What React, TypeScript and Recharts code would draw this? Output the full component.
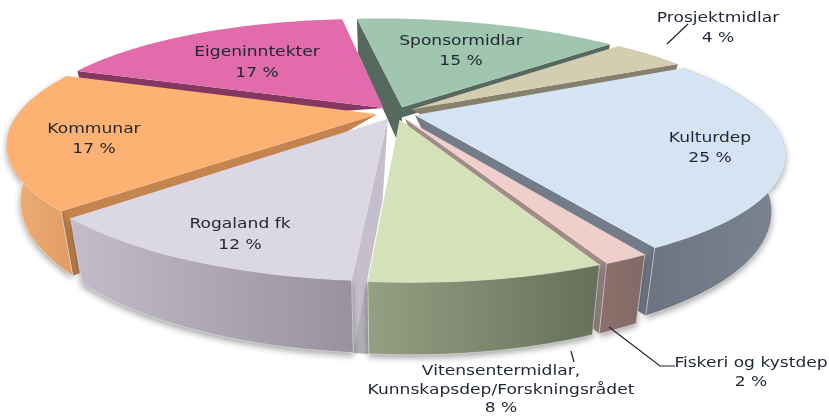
import { Pie, PieChart } from 'recharts'

const names = [
  'Kulturdep',
  'Fiskeri og kystdep',
  'Vitensentermidlar, Kunnskapsdep/Forskningsrådet',
  'Rogaland fk',
  'Kommunar',
  'Eigeninntekter',
  'Sponsormidlar',
  'Prosjektmidlar',
]
const shares = [24.9, 1.6, 7.9, 11.5, 17.49, 17.41, 15.1, 4.1]
const data = names.map((name, i) => ({ name, value: shares[i] }))

const topColors = ['#d5e4f2', '#eecfcb', '#d5e1b9', '#dcd7e4', '#fdb273', '#e26bab', '#a0c6b0', '#d5cdb2']
const sideColors = [
  ['#6b7480', '#7b8490'],
  ['#8a6f6b', '#846a66'],
  ['#969f82', '#66705a'],
  ['#c2bccb', '#98929e'],
  ['#efb07a', '#e09a60'],
]
const edgeColors = ['#737c88', '#a08b87', '#5f6650', '#c5bfcd', '#c48450', '#83395f', '#56695e', '#86806c']

// which cut faces show in the gaps: [start edge depth, end edge depth, inner radius of the cut]
const cutFaces = [
  [0, 1, 0.2],
  [0, 1, 0.2],
  [0, 0, 0.2],
  [1, 0, 0.2],
  [1, 0, 0.8],
  [1, 0, 0.8],
  [0.85, 0.2, 0],
  [0, 0.8, 0.2],
]

const textLayout = [
  { x: 710, ys: [142, 162], lines: ['Kulturdep', '25 %'] },
  { x: 751, ys: [367, 386], lines: ['Fiskeri og kystdep', '2 %'] },
  { x: 501, ys: [375, 394, 412], lines: ['Vitensentermidlar,', 'Kunnskapsdep/Forskningsrådet', '8 %'] },
  { x: 240, ys: [228, 249], lines: ['Rogaland fk', '12 %'] },
  { x: 94, ys: [133, 153], lines: ['Kommunar', '17 %'] },
  { x: 257, ys: [56, 77], lines: ['Eigeninntekter', '17 %'] },
  { x: 461, ys: [45, 65], lines: ['Sponsormidlar', '15 %'] },
  { x: 718, ys: [22, 42], lines: ['Prosjektmidlar', '4 %'] },
]
const leaders: Record<number, string> = {
  1: 'M609 327 L660 366 L675 366',
  2: 'M571 351 L574 362',
  7: 'M667 44 L688 24',
}

const TILT = 0.325
const PERSPECTIVE = 0.2687
const DEPTH = 52
const EXPLODE = 0.055
const SKEW = 5
const TEXT_STRETCH = 1.18

const rad = (d: number) => (d * Math.PI) / 180

function projector(p: any) {
  const { cx, cy, outerRadius, startAngle, endAngle } = p
  const mid = (startAngle + endAngle) / 2
  const ex = Math.cos(rad(mid)) * EXPLODE
  const ey = -Math.sin(rad(mid)) * EXPLODE
  return (deg: number, rho: number, drop: number) => {
    const u = Math.cos(rad(deg)) * rho + ex
    const v = -Math.sin(rad(deg)) * rho + ey
    const w = 1 / (1 - PERSPECTIVE * v)
    const shrink = 1 - 0.035 * drop
    const x = cx + outerRadius * u * w * shrink
    const y = cy + outerRadius * TILT * v * w + DEPTH * w * drop + SKEW * u
    return `${x.toFixed(1)} ${y.toFixed(1)}`
  }
}

function arc(p: any, drop: number, reverse = false) {
  const at = projector(p)
  const steps = Math.max(4, Math.ceil(Math.abs(p.endAngle - p.startAngle) / 2))
  const pts: string[] = []
  for (let i = 0; i <= steps; i++) {
    const t = i / steps
    pts.push(at(p.startAngle + (p.endAngle - p.startAngle) * t, 1, drop))
  }
  return reverse ? pts.reverse() : pts
}

function EdgeShape(p: any) {
  const at = projector(p)
  const fill = edgeColors[p.index]
  const [startDrop, endDrop, inner] = cutFaces[p.index]
  const face = (deg: number, drop: number) => [at(deg, 0, 0), at(deg, 1, 0), at(deg, 1, drop), at(deg, inner, drop)]
  // the grey sliver seen through the gap left of the Vitensenter wall
  const gap = [at(p.endAngle, 1, 0), at(p.endAngle, 1, 1), at(p.endAngle - 2, 1, 1), at(p.endAngle - 2, 1, 0)]
  return (
    <g>
      {p.index === 2 && <path d={`M${gap.join(' L')} Z`} fill="#b2aeb6" />}
      {startDrop > 0 && <path d={`M${face(p.startAngle, startDrop).join(' L')} Z`} fill={fill} />}
      {endDrop > 0 && <path d={`M${face(p.endAngle, endDrop).join(' L')} Z`} fill={fill} />}
    </g>
  )
}

function WallShape(p: any) {
  // the three slices at the back have no outer wall facing the viewer
  if (!sideColors[p.index]) return <g />
  const id = `wall-${p.index}`
  const pts = [...arc(p, 0), ...arc(p, 1, true)]
  const [from, to] = sideColors[p.index]
  return (
    <g style={{ filter: 'drop-shadow(0 3px 3px rgba(0,0,0,0.35))' }}>
      <defs>
        <linearGradient id={id} x1="0" y1="0" x2="1" y2="0">
          <stop offset="0" stopColor={from} />
          <stop offset="1" stopColor={to} />
        </linearGradient>
      </defs>
      <path d={`M${pts.join(' L')} Z`} fill={`url(#${id})`} stroke="#e8e8e8" strokeWidth={0.6} />
    </g>
  )
}

function TopShape(p: any) {
  const at = projector(p)
  const pts = [at(p.startAngle, 0, 0), ...arc(p, 0)]
  return <path d={`M${pts.join(' L')} Z`} fill={topColors[p.index]} />
}

function SliceLabel(p: any) {
  const layout = textLayout[p.index]
  return (
    <g>
      {leaders[p.index] && <path d={leaders[p.index]} fill="none" stroke="#222" strokeWidth={1.2} />}
      {layout.lines.map((line, i) => (
        <text
          key={line}
          x={0}
          y={0}
          transform={`translate(${layout.x} ${layout.ys[i]}) scale(${TEXT_STRETCH} 1)`}
          textAnchor="middle"
          fontFamily="DejaVu Sans"
          fontSize={14.5}
          fill="#1f2733"
        >
          {line}
        </text>
      ))}
    </g>
  )
}

const pieProps = {
  data,
  dataKey: 'value',
  nameKey: 'name',
  cx: 396,
  cy: 113,
  outerRadius: 354,
  startAngle: 30,
  endAngle: -330,
  stroke: 'none',
  isAnimationActive: false,
}

export default function App() {
  return (
    <div style={{ position: 'absolute', left: 0, top: 0, width: 829, height: 416, background: '#fff', filter: 'blur(0.55px)' }}>
      <PieChart width={829} height={416} margin={{ top: 0, right: 0, bottom: 0, left: 0 }}>
        <Pie {...pieProps} shape={EdgeShape} />
        <Pie {...pieProps} shape={WallShape} />
        <Pie {...pieProps} shape={TopShape} labelLine={false} label={SliceLabel} />
      </PieChart>
    </div>
  )
}
